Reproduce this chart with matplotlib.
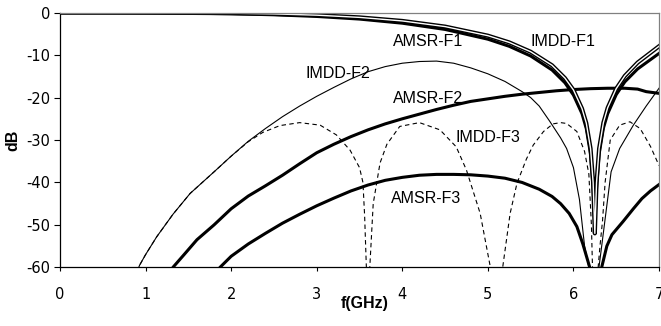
import matplotlib
matplotlib.use("Agg")
import matplotlib.pyplot as plt

plt.rcParams['axes.unicode_minus'] = False

# frequency grids (GHz) and responses (dB)
f_f1 = [0, 0.5, 1, 1.5, 2, 2.5, 3, 3.5, 4, 4.5, 5, 5.25, 5.5, 5.75, 5.9, 6.0,
        6.1, 6.15, 6.2, 6.23, 6.25, 6.27, 6.3, 6.35, 6.4, 6.5, 6.6, 6.75, 7.0]
imdd_f1 = [0, 0, -0.01, -0.04, -0.11, -0.28, -0.58, -1.1, -1.94, -3.27, -5.41,
           -7.0, -9.2, -12.4, -15.4, -18.2, -22.6, -26.0, -32.0, -40.0, -52.0,
           -40.0, -32.0, -25.9, -22.4, -17.9, -14.9, -11.75, -7.9]
amsr_f1 = [0, -0.01, -0.04, -0.11, -0.24, -0.49, -0.88, -1.5, -2.47, -3.94,
           -6.24, -7.92, -10.2, -13.5, -16.5, -19.4, -23.8, -27.3, -33.3, -41.3,
           -50.0, -41.3, -33.3, -27.2, -23.8, -19.3, -16.3, -13.25, -9.6]

f_imdd2 = [0.9, 0.93, 1.0, 1.13, 1.32, 1.52, 1.8, 2.0, 2.2, 2.4, 2.6, 2.8, 3.0,
           3.2, 3.4, 3.6, 3.8, 4.0, 4.2, 4.4, 4.6, 4.8, 5.0, 5.2, 5.4, 5.5, 5.6,
           5.72, 5.85, 5.92, 6.0, 6.07, 6.13, 6.2, 6.26, 6.33, 6.44, 6.54, 6.7,
           6.85, 7.0]
imdd_f2 = [-61, -59.5, -57, -52.8, -47.5, -42.6, -37.5, -33.8, -30.3, -27.3,
           -24.5, -22.0, -19.7, -17.6, -15.6, -13.9, -12.7, -11.9, -11.5, -11.4,
           -11.9, -13.0, -14.4, -16.2, -18.6, -20.0, -22.0, -25.5, -29.5, -32.0,
           -36.5, -44.0, -55.0, -62.0, -66.0, -55.0, -37.5, -32.0, -26.5, -22.0,
           -17.8]

f_imdd3 = [0.9, 0.93, 1.0, 1.13, 1.32, 1.52, 1.8, 2.0, 2.2, 2.37, 2.57, 2.8,
           3.04, 3.23, 3.39, 3.5, 3.54, 3.56, 3.58, 3.6, 3.62, 3.66, 3.74, 3.82,
           3.97, 4.2, 4.44, 4.63, 4.75, 4.91, 5.02, 5.05, 5.1, 5.16, 5.18, 5.26,
           5.34, 5.45, 5.53, 5.65, 5.76, 5.85, 5.92, 6.04, 6.13, 6.18, 6.21,
           6.225, 6.25, 6.28, 6.31, 6.34, 6.37, 6.43, 6.54, 6.66, 6.78, 6.9, 7.0]
imdd_f3 = [-61, -59.5, -57, -52.8, -47.5, -42.6, -37.5, -33.8, -30.4, -28.2,
           -26.6, -25.9, -26.5, -28.8, -32.4, -36.5, -40.0, -48.0, -60.0, -70.0,
           -60.0, -45.0, -35.4, -31.0, -26.8, -25.9, -27.6, -31.6, -37.1, -47.3,
           -59.0, -62.0, -70.0, -62.0, -59.0, -47.3, -40.2, -34.5, -31.2, -28.0,
           -26.2, -25.9, -26.1, -28.0, -32.7, -38.0, -50.0, -62.0, -70.0, -62.0,
           -55.0, -49.0, -40.0, -30.0, -26.5, -25.7, -27.3, -31.5, -36.0]

f_amsr2 = [1.3, 1.32, 1.45, 1.6, 1.8, 2.0, 2.2, 2.4, 2.6, 2.8, 3.0, 3.2, 3.4,
           3.6, 3.8, 4.0, 4.2, 4.4, 4.6, 4.8, 5.0, 5.2, 5.4, 5.6, 5.8, 6.0, 6.2,
           6.4, 6.6, 6.75, 6.85, 7.0]
amsr_f2 = [-61, -60, -57, -53.5, -50.0, -46.2, -43.2, -40.8, -38.3, -35.6,
           -33.0, -31.0, -29.2, -27.6, -26.2, -25.0, -23.9, -22.8, -21.8, -20.9,
           -20.3, -19.7, -19.2, -18.8, -18.4, -18.1, -17.9, -17.8, -17.8, -18.0,
           -18.6, -19.0]

f_amsr3 = [1.83, 1.87, 2.0, 2.2, 2.4, 2.6, 2.8, 3.0, 3.2, 3.4, 3.6, 3.8, 4.0,
           4.2, 4.4, 4.6, 4.8, 5.0, 5.2, 5.4, 5.6, 5.75, 5.85, 5.95, 6.04, 6.11,
           6.19, 6.26, 6.33, 6.39, 6.45, 6.58, 6.7, 6.8, 6.9, 7.0]
amsr_f3 = [-61, -60, -57.4, -54.5, -52.0, -49.6, -47.5, -45.5, -43.7, -42.0,
           -40.6, -39.5, -38.8, -38.3, -38.1, -38.1, -38.2, -38.5, -39.0, -40.0,
           -41.6, -43.3, -45.0, -47.3, -50.4, -54.5, -60.0, -66.0, -60.0, -55.0,
           -52.3, -49.2, -46.2, -43.8, -42.0, -40.5]

labels = ['AMSR-F1', 'IMDD-F1', 'IMDD-F2', 'AMSR-F2', 'IMDD-F3', 'AMSR-F3']
label_pos = [(4.3, -6.7), (5.88, -6.7), (3.25, -14.4), (4.3, -20.3),
             (5.0, -29.4), (4.28, -43.7)]

fig = plt.figure(figsize=(6.61, 3.26), dpi=100)
ax = fig.add_axes([0.0908, 0.180, 0.9062, 0.781])

ax.plot(f_imdd3, imdd_f3, color='black', lw=0.8, ls=(0, (4, 3)))
ax.plot(f_imdd2, imdd_f2, color='black', lw=0.8)
ax.plot(f_amsr3, amsr_f3, color='black', lw=2.2)
ax.plot(f_amsr2, amsr_f2, color='black', lw=2.2)
ax.plot(f_f1, amsr_f1, color='black', lw=2.2)
# IMDD-F1 is drawn as a hollow (outlined) line
ax.plot(f_f1, imdd_f1, color='black', lw=3.0)
ax.plot(f_f1, imdd_f1, color='white', lw=1.0)

for txt, (x, y) in zip(labels, label_pos):
    ax.text(x, y, txt, ha='center', va='center', fontsize=11.5,
            family='Liberation Sans')

ax.set_xlim(0, 7)
ax.set_ylim(-60, 0)
ax.set_xticks(range(0, 8))
ax.set_yticks(range(-60, 1, 10))
ax.tick_params(axis='x', direction='out', length=3, width=0.8, pad=11,
               labelsize=10.5)
ax.tick_params(axis='y', direction='out', length=4.3, width=0.8, pad=3,
               labelsize=10.5)

for s in ['left', 'bottom']:
    ax.spines[s].set_color('black')
    ax.spines[s].set_linewidth(0.9)
for s in ['top', 'right']:
    ax.spines[s].set_color('#808080')
    ax.spines[s].set_linewidth(0.9)

ax.set_xlabel('f(GHz)', fontsize=11.5, fontweight='bold',
              family='Liberation Sans')
ax.xaxis.set_label_coords(0.509, -0.142)
ax.xaxis.label.set_va('center')
ax.set_ylabel('dB', fontsize=11.5, fontweight='bold', family='Liberation Sans')
ax.yaxis.set_label_coords(-0.079, 0.5)
ax.yaxis.label.set_va('center')

fig.savefig('out.png', dpi=100)
